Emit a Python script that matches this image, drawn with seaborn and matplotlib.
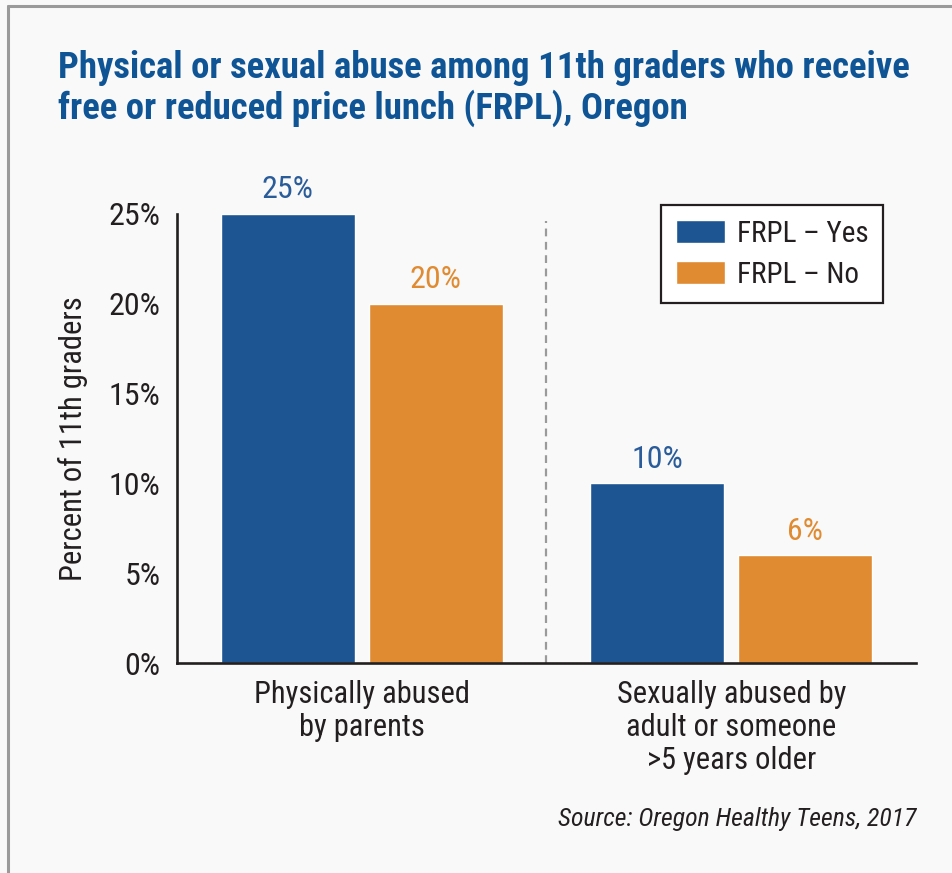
import seaborn as sns
import matplotlib.pyplot as plt
import pandas as pd
from matplotlib.lines import Line2D
from matplotlib.ticker import FixedLocator

sns.set_style("white")
plt.rcParams['font.family'] = ['Roboto Condensed', 'IBM Plex Sans Condensed', 'DejaVu Sans']

# data
categories = ["Physically abused\nby parents",
              "Sexually abused by\nadult or someone\n>5 years older"]
groups = ["FRPL \u2013 Yes", "FRPL \u2013 No"]
frpl_yes = [25, 10]
frpl_no = [20, 6]
yticks = [0, 5, 10, 15, 20, 25]

title = ("Physical or sexual abuse among 11th graders who receive\n"
         "free or reduced price lunch (FRPL), Oregon")
source = "Source: Oregon Healthy Teens, 2017"

bg = "#f9f9f9"
ink = "#231f20"
palette = {groups[0]: "#1c5591", groups[1]: "#e08b31"}
label_colors = ["#2a5c9a", "#e08b31"]

df = pd.DataFrame({
    "category": categories * 2,
    "group": [groups[0]] * len(categories) + [groups[1]] * len(categories),
    "value": frpl_yes + frpl_no,
})

fig = plt.figure(figsize=(9.53, 8.73), dpi=100, facecolor=bg)
ax = fig.add_axes([0.1857, 0.2405, 0.7755, 0.5144])
ax.set_facecolor(bg)

sns.barplot(data=df, x="category", y="value", hue="group", palette=palette,
            width=0.8, gap=0.095, saturation=1, ax=ax, legend=True)

ax.set_xlim(-0.5, 1.5)
ax.set_ylim(0, 25)

# value labels
for container, col in zip(ax.containers, label_colors):
    ax.bar_label(container, labels=[f"{v:g}%" for v in container.datavalues],
                 padding=7, fontsize=23, color=col, clip_on=False)

# divider between the two categories
ax.plot([0.5, 0.5], [0, 24.6], color="#9a9a9a", lw=1.6,
        dashes=(3.5, 2.5), clip_on=False, zorder=0)

# axes styling
sns.despine(ax=ax)
for s in ["left", "bottom"]:
    ax.spines[s].set_linewidth(1.9)
    ax.spines[s].set_color(ink)

ax.set_yticks(yticks)
ax.set_yticklabels([f"{t}%" for t in yticks])
ax.tick_params(axis="y", direction="in", length=11.5, width=1.9, color=ink,
               labelsize=23, labelcolor=ink, pad=12)
ax.tick_params(axis="x", which="major", length=0, labelsize=22,
               labelcolor=ink, pad=12)
ax.xaxis.set_minor_locator(FixedLocator([0.5, 1.5]))
ax.tick_params(axis="x", which="minor", direction="in", length=7.5,
               width=1.9, color=ink)
for lbl in ax.get_xticklabels():
    lbl.set_linespacing(1.17)

ax.set_xlabel("")
ax.set_ylabel("Percent of 11th graders", fontsize=22, color=ink)
ax.yaxis.set_label_coords(-0.12, 0.5)

# legend
handles, labels = ax.get_legend_handles_labels()
ax.legend(handles, labels, loc="upper right",
          bbox_to_anchor=(0.9266, 0.7652), bbox_transform=fig.transFigure,
          borderaxespad=0, fontsize=21, frameon=True, fancybox=False,
          facecolor="white", edgecolor=ink, framealpha=1,
          handlelength=1.7, handleheight=0.85, handletextpad=0.4,
          labelspacing=0.45, borderpad=0.5, labelcolor=ink)
ax.get_legend().get_frame().set_linewidth(1.6)

# title and source
fig.text(0.0609, 0.9427, title, ha="left", va="top", fontsize=26.5,
         fontweight="bold", color="#0f5596", linespacing=1.1)
fig.text(0.9612, 0.0538, source, ha="right", va="baseline", fontsize=18.5,
         style="italic", color=ink)

# panel border (top and left edges)
fig.add_artist(Line2D([0.0084, 0.0084], [0, 0.9931], color="#9a9a9a",
                      lw=2.2, transform=fig.transFigure))
fig.add_artist(Line2D([0.0084, 1], [0.9931, 0.9931], color="#9a9a9a",
                      lw=2.2, transform=fig.transFigure))

fig.savefig("out.png", dpi=100, facecolor=bg)
